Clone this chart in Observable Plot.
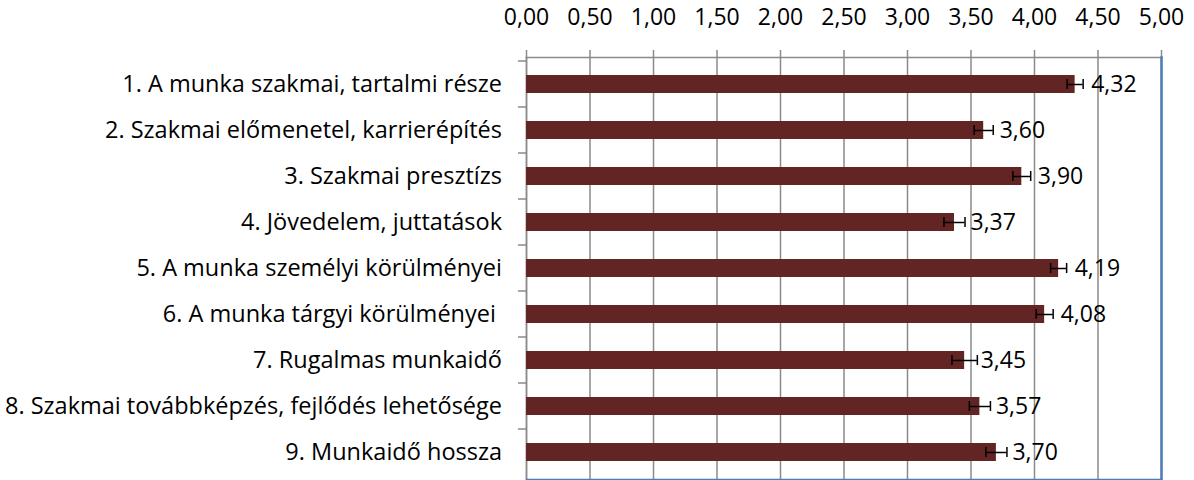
<!DOCTYPE html>
<html>
<head>
<meta charset="utf-8">
<script src="https://cdn.jsdelivr.net/npm/d3@7"></script>
<script src="https://cdn.jsdelivr.net/npm/@observablehq/plot@0.6"></script>
<style>
  html, body { margin: 0; padding: 0; background: #fff; }
  #chart svg { display: block; }
</style>
</head>
<body>
<div id="chart"></div>
<script>
const categories = [
  "1. A munka szakmai, tartalmi része",
  "2. Szakmai előmenetel, karrierépítés",
  "3. Szakmai presztízs",
  "4. Jövedelem, juttatások",
  "5. A munka személyi körülményei",
  "6. A munka tárgyi körülményei\u00a0",
  "7. Rugalmas munkaidő",
  "8. Szakmai továbbképzés, fejlődés lehetősége",
  "9. Munkaidő hossza"
];
const values = [4.32, 3.60, 3.90, 3.37, 4.19, 4.08, 3.45, 3.57, 3.70];
const errors = [0.063, 0.075, 0.07, 0.083, 0.063, 0.067, 0.10, 0.083, 0.083];
const emphasized = [false, true, false, false, false, false, true, true, true];
const xTicks = [0, 0.5, 1, 1.5, 2, 2.5, 3, 3.5, 4, 4.5, 5];

const fmt = d => d.toFixed(2).replace(".", ",");
const data = categories.map((c, i) => ({
  cat: c, value: values[i], err: errors[i], strong: emphasized[i]
}));

const grey = "#8a8a8a";
const blue = "#4a7ebb";
const font = "'Open Sans', 'Noto Sans', sans-serif";

const chart = Plot.plot({
  width: 1194,
  height: 480,
  marginLeft: 526,
  marginRight: 33,
  marginTop: 57,
  marginBottom: 1,
  style: { fontFamily: font, background: "#fff", color: "#000" },
  x: { domain: [0, 5], label: null },
  y: { domain: categories, paddingInner: 0.6, paddingOuter: 0.3, label: null, axis: null },
  marks: [
    Plot.gridX(xTicks, { stroke: grey, strokeOpacity: 1, strokeWidth: 1.5 }),
    Plot.axisX(xTicks, {
      anchor: "top", tickSize: 8, tickPadding: 25, stroke: grey, strokeWidth: 1.5,
      tickFormat: fmt, fontSize: 23, label: null, fill: "#000"
    }),
    Plot.frame({ anchor: "top", stroke: grey, strokeWidth: 1.5 }),
    Plot.frame({ anchor: "left", stroke: grey, strokeWidth: 1.5 }),
    Plot.ruleY(data, { y: "cat", x1: () => -8 / 127, x2: () => 0, dy: -23.5, stroke: grey, strokeWidth: 1.5 }),
    Plot.barX(data, { x: "value", y: "cat", fill: "#632523" }),
    Plot.ruleY(data, { y: "cat", x1: d => d.value - d.err, x2: d => d.value + d.err, stroke: "#000", strokeWidth: 1.5 }),
    Plot.tickX(data, { x: d => d.value - d.err, y: "cat", insetTop: 4, insetBottom: 4, stroke: "#000", strokeWidth: 1.5 }),
    Plot.tickX(data, { x: d => d.value + d.err, y: "cat", insetTop: 4, insetBottom: 4, stroke: "#000", strokeWidth: 1.5 }),
    Plot.text(data, { x: "value", y: "cat", text: d => fmt(d.value), dx: 16, textAnchor: "start", fontSize: 23, fill: "#000" }),
    Plot.text(data.filter(d => !d.strong), { x: () => 0, y: "cat", text: "cat", dx: -24.5, textAnchor: "end", fontSize: 23.5, fill: "#000", fontWeight: 400 }),
    Plot.text(data.filter(d => d.strong), { x: () => 0, y: "cat", text: "cat", dx: -24.5, textAnchor: "end", fontSize: 23.5, fill: "#000", fontWeight: 500 }),
    Plot.frame({ anchor: "bottom", stroke: blue, strokeWidth: 1.5 }),
    Plot.frame({ anchor: "right", stroke: blue, strokeWidth: 2.5 })
  ]
});
document.getElementById("chart").appendChild(chart);
</script>
</body>
</html>
